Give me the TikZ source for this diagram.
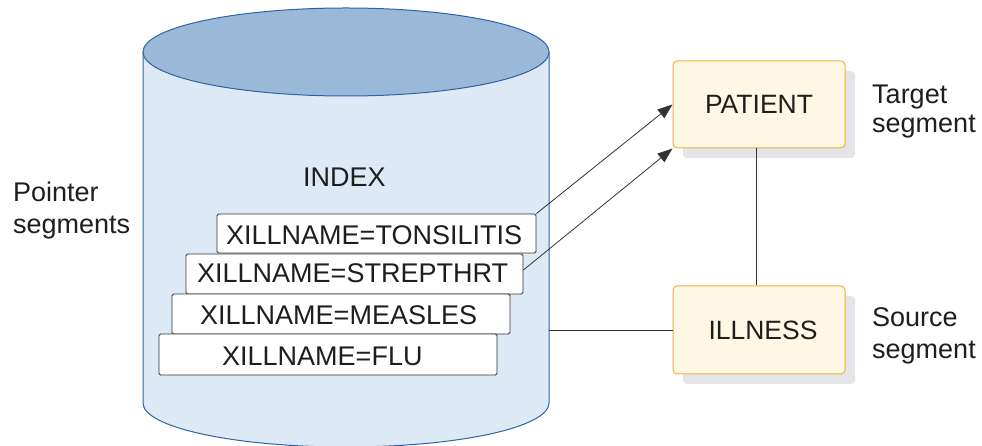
\documentclass[tikz,border=0pt]{standalone}
\usepackage{fontspec}
\setmainfont{Liberation Sans}
\usetikzlibrary{arrows.meta,shadows}
\definecolor{cylline}{HTML}{2F63A8}
\definecolor{cyltop}{HTML}{9AB8D8}
\definecolor{cylbody}{HTML}{DDEAF5}
\definecolor{segfill}{HTML}{FDF7E4}
\definecolor{segline}{HTML}{F0AE3C}
\definecolor{shadowc}{HTML}{E4E5E8}
\definecolor{txt}{HTML}{1E1E1E}
\definecolor{conn}{HTML}{333333}
\tikzset{
  lbl/.style={inner sep=0pt, anchor=base west, text=txt, font=\fontsize{27}{30}\selectfont},
  ptrbox/.style={draw=conn, fill=white, rounded corners=1.5pt, line width=0.8pt, inner sep=0pt},
  segbox/.style={draw=segline, fill=segfill, rounded corners=4pt, line width=1pt, inner sep=0pt,
    minimum width=172pt, text=txt, font=\fontsize{26.5}{30}\selectfont,
    general shadow={fill=shadowc, shadow xshift=10pt, shadow yshift=-10pt}},
  link/.style={draw=conn, line width=0.8pt},
  arr/.style={link, -{Triangle[length=15pt,width=11pt]}}
}
\begin{document}
\begin{tikzpicture}[x=1pt,y=1pt]
\useasboundingbox (0,0) rectangle (982,446);
% cylinder
\path[fill=cylbody, draw=cylline, line width=1pt]
  (143,394) -- (143,43) arc[start angle=180, end angle=360, x radius=203, y radius=44]
  -- (549,394);
\path[fill=cyltop, draw=cylline, line width=1pt] (346,394) ellipse[x radius=203, y radius=44];
\coordinate (cylright) at (549,116);
\node[lbl] (index) at (303,259) {INDEX};
% pointer boxes
\node[ptrbox, minimum width=319pt, minimum height=39pt] (b1) at (376.5,212.5) {};
\node[lbl] (t1) at (226,201) {XILLNAME=TONSILITIS};
\node[ptrbox, minimum width=337pt, minimum height=40pt] (b2) at (354.5,172) {};
\node[lbl] (t2) at (197,163) {XILLNAME=STREPTHRT};
\node[ptrbox, minimum width=338pt, minimum height=40pt] (b3) at (341,132) {};
\node[lbl] (t3) at (200,121) {XILLNAME=MEASLES};
\node[ptrbox, minimum width=338pt, minimum height=41pt] (b4) at (328,91.5) {};
\node[lbl] (t4) at (222,80) {XILLNAME=FLU};
% segments
\node[segbox, minimum height=87pt] (patient) at (759,341.5) {PATIENT};
\node[segbox, minimum height=88pt] (illness) at (759,116) {\hspace*{8pt}ILLNESS};
% labels
\node[lbl] (ptr1) at (13,244) {Pointer};
\node[lbl] (ptr2) at (13,212) {segments};
\node[lbl] (tg1) at (872,342) {Target};
\node[lbl] (tg2) at (872,313) {segment};
\node[lbl] (sr1) at (872,119) {Source};
\node[lbl] (sr2) at (872,87) {segment};
% connectors
\draw[arr] (b1.north east) -- (patient.west);
\draw[arr] ([yshift=4pt]b2.east) -- (patient.south west);
\draw[link] ([xshift=-3pt]patient.south) -- ([xshift=-3pt]illness.north);
\draw[link] (cylright) -- (illness.west);
\end{tikzpicture}
\end{document}
